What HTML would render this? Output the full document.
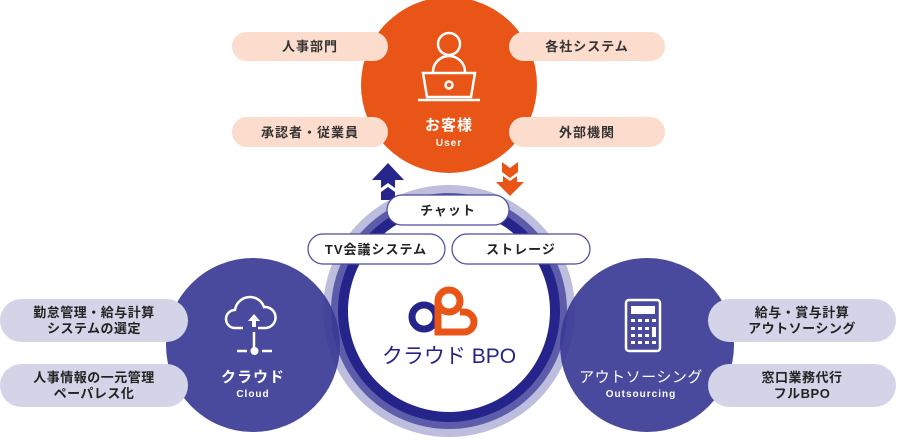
<!DOCTYPE html>
<html><head><meta charset="utf-8"><style>
html,body{margin:0;padding:0;background:#fff;width:897px;height:440px;overflow:hidden}
text{font-family:"Liberation Sans","Noto Sans CJK JP",sans-serif;font-weight:bold}
</style></head><body>
<svg width="897" height="440" viewBox="0 0 897 440" xmlns="http://www.w3.org/2000/svg">
<circle cx="449" cy="85" r="88" fill="#e95516"/>
<g fill="#fbdccd">
<rect x="232" y="32" width="156" height="29" rx="14.5"/>
<rect x="232" y="117" width="156" height="30" rx="15"/>
<rect x="509" y="32" width="156" height="29" rx="14.5"/>
<rect x="509" y="117" width="156" height="30" rx="15"/>
</g>
<g font-size="13" fill="#333" text-anchor="middle" letter-spacing="1">
<text x="310" y="51">人事部門</text>
<text x="310" y="137">承認者・従業員</text>
<text x="587" y="51">各社システム</text>
<text x="587" y="137">外部機関</text>
</g>
<g stroke="#fff" stroke-width="2.5" fill="none">
<circle cx="449" cy="44" r="11"/>
<path d="M433 72 a16 16 0 0 1 32 0"/>
<path d="M423 73 h52 l-4 24 h-44 z"/>
<path d="M418 100 h62"/>
<circle cx="449" cy="85" r="3.5"/>
</g>
<text x="449" y="130" font-size="15" fill="#fff" text-anchor="middle" letter-spacing="1">お客様</text>
<text x="449" y="146" font-size="10" fill="#fff" text-anchor="middle" letter-spacing="1">User</text>
<path d="M372 180 l16 -17 l16 17 h-9 v8 l-7 -5 l-7 5 v-8 z" fill="#25258c"/>
<path d="M381 200 v-8 l7 -5 l7 5 v8 z" fill="#25258c"/>
<path d="M502 162 l8 6 l8 -6 v10 l-8 6 l-8 -6 z" fill="#e95516"/>
<path d="M496 182 h7 v-6 l7 5 l7 -5 v6 h7 l-14 14 z" fill="#e95516"/>
<circle cx="449" cy="311" r="126" fill="#bdbddd"/>
<circle cx="449" cy="311" r="118" fill="#5c5caa"/>
<circle cx="449" cy="311" r="111" fill="#24248a"/>
<circle cx="449" cy="311" r="101" fill="#fff"/>
<circle cx="253" cy="345" r="87" fill="#3a3a95" fill-opacity="0.92"/>
<circle cx="647" cy="345" r="87" fill="#3a3a95" fill-opacity="0.92"/>
<g fill="#fff" stroke="#4a4a9c" stroke-width="1.2">
<rect x="387" y="195" width="122" height="30" rx="15"/>
<rect x="308" y="234" width="137" height="30" rx="15"/>
<rect x="452" y="234" width="138" height="30" rx="15"/>
</g>
<g font-size="13" fill="#222" text-anchor="middle" letter-spacing="1">
<text x="448" y="215">チャット</text>
<text x="376" y="254">TV会議システム</text>
<text x="521" y="254">ストレージ</text>
</g>
<circle cx="424" cy="317" r="12" fill="none" stroke="#24248a" stroke-width="7"/>
<circle cx="449" cy="301" r="11" fill="none" stroke="#e95516" stroke-width="7"/>
<path d="M438 302 v30 h26 a10 10 0 0 0 0 -20 h-4" fill="none" stroke="#e95516" stroke-width="7"/>
<text x="449" y="363" font-size="21" fill="#24248a" text-anchor="middle" style="font-weight:normal">クラウド BPO</text>
<g stroke="#fff" stroke-width="2.5" fill="none">
<path d="M243 328 h-8 a9 9 0 0 1 0 -18 a15 15 0 0 1 29 -3 a10 10 0 0 1 2 21 h-8"/>
<path d="M254 332 v18"/>
<path d="M237 351 h10 M262 351 h10"/>
</g>
<path d="M254 314 l-6 7 h4 v6 h4 v-6 h4 z" fill="#fff"/>
<circle cx="254.5" cy="351" r="4" fill="#fff"/>
<text x="253" y="382" font-size="15" fill="#fff" text-anchor="middle" letter-spacing="1">クラウド</text>
<text x="253" y="397" font-size="10" fill="#fff" text-anchor="middle" letter-spacing="1">Cloud</text>
<rect x="626" y="300" width="34" height="51" rx="3" fill="none" stroke="#fff" stroke-width="2.5"/>
<rect x="631" y="306" width="24" height="8" fill="#fff"/>
<g fill="#fff">
<rect x="631" y="319" width="4" height="3"/><rect x="638" y="319" width="4" height="3"/><rect x="645" y="319" width="4" height="3"/><rect x="652" y="319" width="4" height="3"/>
<rect x="631" y="327" width="4" height="3"/><rect x="638" y="327" width="4" height="3"/><rect x="645" y="327" width="4" height="3"/><rect x="652" y="327" width="4" height="10"/>
<rect x="631" y="334" width="4" height="3"/><rect x="638" y="334" width="4" height="3"/><rect x="645" y="334" width="4" height="3"/>
<rect x="631" y="341" width="4" height="3"/><rect x="638" y="341" width="4" height="3"/><rect x="645" y="341" width="4" height="3"/><rect x="652" y="341" width="4" height="3"/>
</g>
<text x="641" y="382" font-size="15" fill="#fff" text-anchor="middle" style="font-weight:normal" letter-spacing="0.5">アウトソーシング</text>
<text x="641" y="397" font-size="10" fill="#fff" text-anchor="middle" letter-spacing="1">Outsourcing</text>
<g fill="#d4d4e8">
<rect x="0" y="299" width="188" height="43" rx="21.5"/>
<rect x="0" y="364" width="188" height="43" rx="21.5"/>
<rect x="708" y="299" width="188" height="43" rx="21.5"/>
<rect x="708" y="364" width="188" height="43" rx="21.5"/>
</g>
<g font-size="13" fill="#222" text-anchor="middle" letter-spacing="0.5">
<text x="94" y="317">勤怠管理・給与計算</text>
<text x="94" y="333">システムの選定</text>
<text x="94" y="382">人事情報の一元管理</text>
<text x="94" y="398">ペーパレス化</text>
<text x="802" y="317">給与・賞与計算</text>
<text x="802" y="333">アウトソーシング</text>
<text x="802" y="382">窓口業務代行</text>
<text x="802" y="398">フルBPO</text>
</g>
</svg>
</body></html>
